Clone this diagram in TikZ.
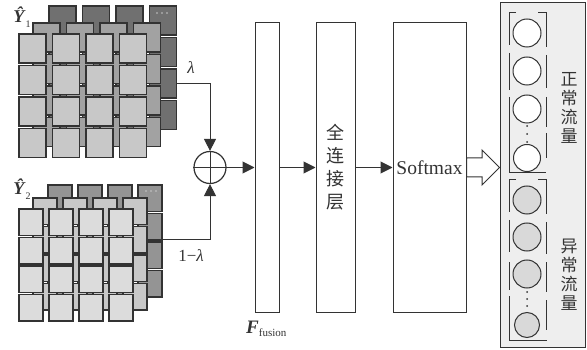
\documentclass[tikz,border=0pt]{standalone}
\usepackage{fontspec}
\setmainfont{Liberation Serif}
\newfontfamily\cjk{Noto Sans CJK SC}
\usetikzlibrary{arrows.meta,calc}
\definecolor{edge}{HTML}{333333}
\definecolor{tfront}{HTML}{C8C8C8}
\definecolor{tmid}{HTML}{A2A2A2}
\definecolor{tback}{HTML}{707070}
\definecolor{bfront}{HTML}{DCDCDC}
\definecolor{bmid}{HTML}{C8C8C8}
\definecolor{bback}{HTML}{949494}
\definecolor{panelgray}{HTML}{EEEEEE}
\definecolor{circgray}{HTML}{D9D9D9}
\newcommand\drawlayer[7]{%
  \foreach \i in {0,...,3} {\foreach \j in {0,...,3} {\draw[cellst, fill=#7] ({#1+\i*#5},{#2+\j*#6}) rectangle ++(#3,#4);}}
}
\tikzset{
  cellst/.style={draw=edge, line width=1.4pt},
  boxst/.style={draw=edge, line width=1pt, fill=white, inner sep=0pt},
  arr/.style={draw=edge, line width=1pt, -{Triangle[length=12pt,width=12pt]}},
  conn/.style={draw=edge, line width=1pt},
  neuron/.style={circle, draw=edge, line width=1pt, inner sep=0pt, minimum size=28pt},
  brk/.style={draw=edge, line width=1pt},
  lbl/.style={text=edge, inner sep=0pt},
  dotst/.style={fill=black!22}
}
\begin{document}
\begin{tikzpicture}[x=1pt,y=-1pt]
\useasboundingbox (0,0) rectangle (587,350);
% top stack
\drawlayer{49}{6}{27}{29}{33.5}{31.5}{tback}
\drawlayer{33}{23}{27}{29}{33.5}{31.5}{tmid}
\drawlayer{19}{34}{27}{29}{33.5}{31.5}{tfront}
\foreach \xx in {157,162,167} {\fill[dotst] (\xx,13) circle (0.9pt);}
% bottom stack
\drawlayer{48}{185}{24}{26.5}{30}{28.5}{bback}
\drawlayer{33}{198}{24}{26.5}{30}{28.5}{bmid}
\drawlayer{19}{209}{24}{26.5}{30}{28.5}{bfront}
\foreach \xx in {146,151,156} {\fill[dotst] (\xx,191) circle (0.9pt);}
% labels
\node[lbl, font=\fontsize{18}{18}\selectfont] (y1) at (22,17) {\textbf{\textit{Ŷ}}\raisebox{-5pt}{\fontsize{10}{10}\selectfont 1}};
\node[lbl, font=\fontsize{18}{18}\selectfont] (y2) at (22,189) {\textbf{\textit{Ŷ}}\raisebox{-5pt}{\fontsize{10}{10}\selectfont 2}};
% oplus
\node[circle, draw=edge, line width=1.2pt, minimum size=32pt, inner sep=0pt, fill=white] (oplus) at (210,167.5) {};
\draw[conn] (oplus.north) -- (oplus.south);
\draw[conn] (oplus.west) -- (oplus.east);
\coordinate (y1out) at (176.5,84);
\coordinate (y2out) at (162,240);
\draw[arr] (y1out) -| (oplus.north);
\draw[arr] (y2out) -| (oplus.south);
\node[lbl, font=\fontsize{17}{17}\selectfont] (lam) at (191,68) {\textit{λ}};
\node[lbl, font=\fontsize{17}{17}\selectfont] (lam2) at (191,256) {1−\textit{λ}};
% boxes
\node[boxst, minimum width=24pt, minimum height=289pt] (ff) at (267,167.5) {};
\node[boxst, minimum width=39pt, minimum height=289pt] (fc) at (335.5,167.5) {};
\node[boxst, minimum width=73pt, minimum height=289pt] (sm) at (429.5,167.5) {};
\node[lbl, font=\cjk\fontsize{18}{23}\selectfont, align=center] (fctext) at (fc) {全\\连\\接\\层};
\node[lbl, font=\fontsize{19.5}{20}\selectfont] (smtext) at (sm) {Softmax};
\node[lbl, font=\fontsize{19}{19}\selectfont, anchor=base west] (flabel) at (246,333) {\textbf{\textit{F}}\raisebox{-3pt}{\fontsize{11}{11}\selectfont fusion}};
\draw[arr] (oplus.east) -- (ff.west);
\draw[arr] (ff.east) -- (fc.west);
\draw[arr] (fc.east) -- (sm.west);
% panel
\node[draw=edge, line width=1pt, fill=panelgray, minimum width=85pt, minimum height=344pt, inner sep=0pt] (panel) at (542.5,175) {};
\draw[draw=edge, line width=1pt, fill=white, line join=miter] (sm.east |- 0,158) -- (482,158) -- (482,150) -- (panel.west |- sm.east) -- (482,185) -- (482,177) -- (sm.east |- 0,177) -- cycle;
% neurons
\node[neuron, fill=white] (w1) at (527,33) {};
\node[neuron, fill=white] (w2) at (527,71) {};
\node[neuron, fill=white] (w3) at (527,109) {};
\node[neuron, fill=white, minimum size=27pt] (w4) at (527,158) {};
\node[neuron, fill=circgray] (g1) at (527,200) {};
\node[neuron, fill=circgray] (g2) at (527,237) {};
\node[neuron, fill=circgray] (g3) at (527,274) {};
\node[neuron, fill=circgray, minimum size=25pt] (g4) at (527,325) {};
\foreach \yy in {126,134,142} {\fill[edge] (527,\yy) circle (1pt);}
\foreach \yy in {292,299,306} {\fill[edge] (527,\yy) circle (1pt);}
% brackets white group
\draw[brk] (516,13) -- (509,13) -- (509,45);
\draw[brk] (509,53) -- (509,90);
\draw[brk] (509,97) -- (509,173) -- (546,173);
\draw[brk] (538,13) -- (546,13) -- (546,47);
\draw[brk] (546,55) -- (546,88);
\draw[brk] (546,97) -- (546,127);
\draw[brk] (546,133) -- (546,158);
% brackets gray group
\draw[brk] (516,180) -- (509,180) -- (509,212);
\draw[brk] (509,220) -- (509,252);
\draw[brk] (509,262) -- (509,290);
\draw[brk] (509,296) -- (509,340) -- (547,340);
\draw[brk] (538,180) -- (546,180) -- (546,214);
\draw[brk] (546,222) -- (546,254);
\draw[brk] (546,262) -- (546,292);
\draw[brk] (546,300) -- (546,330);
\node[lbl, font=\cjk\fontsize{17}{19}\selectfont, align=center] (norm) at (569,108) {正\\常\\流\\量};
\node[lbl, font=\cjk\fontsize{17}{19}\selectfont, align=center] (abn) at (569,275) {异\\常\\流\\量};
\end{tikzpicture}
\end{document}
